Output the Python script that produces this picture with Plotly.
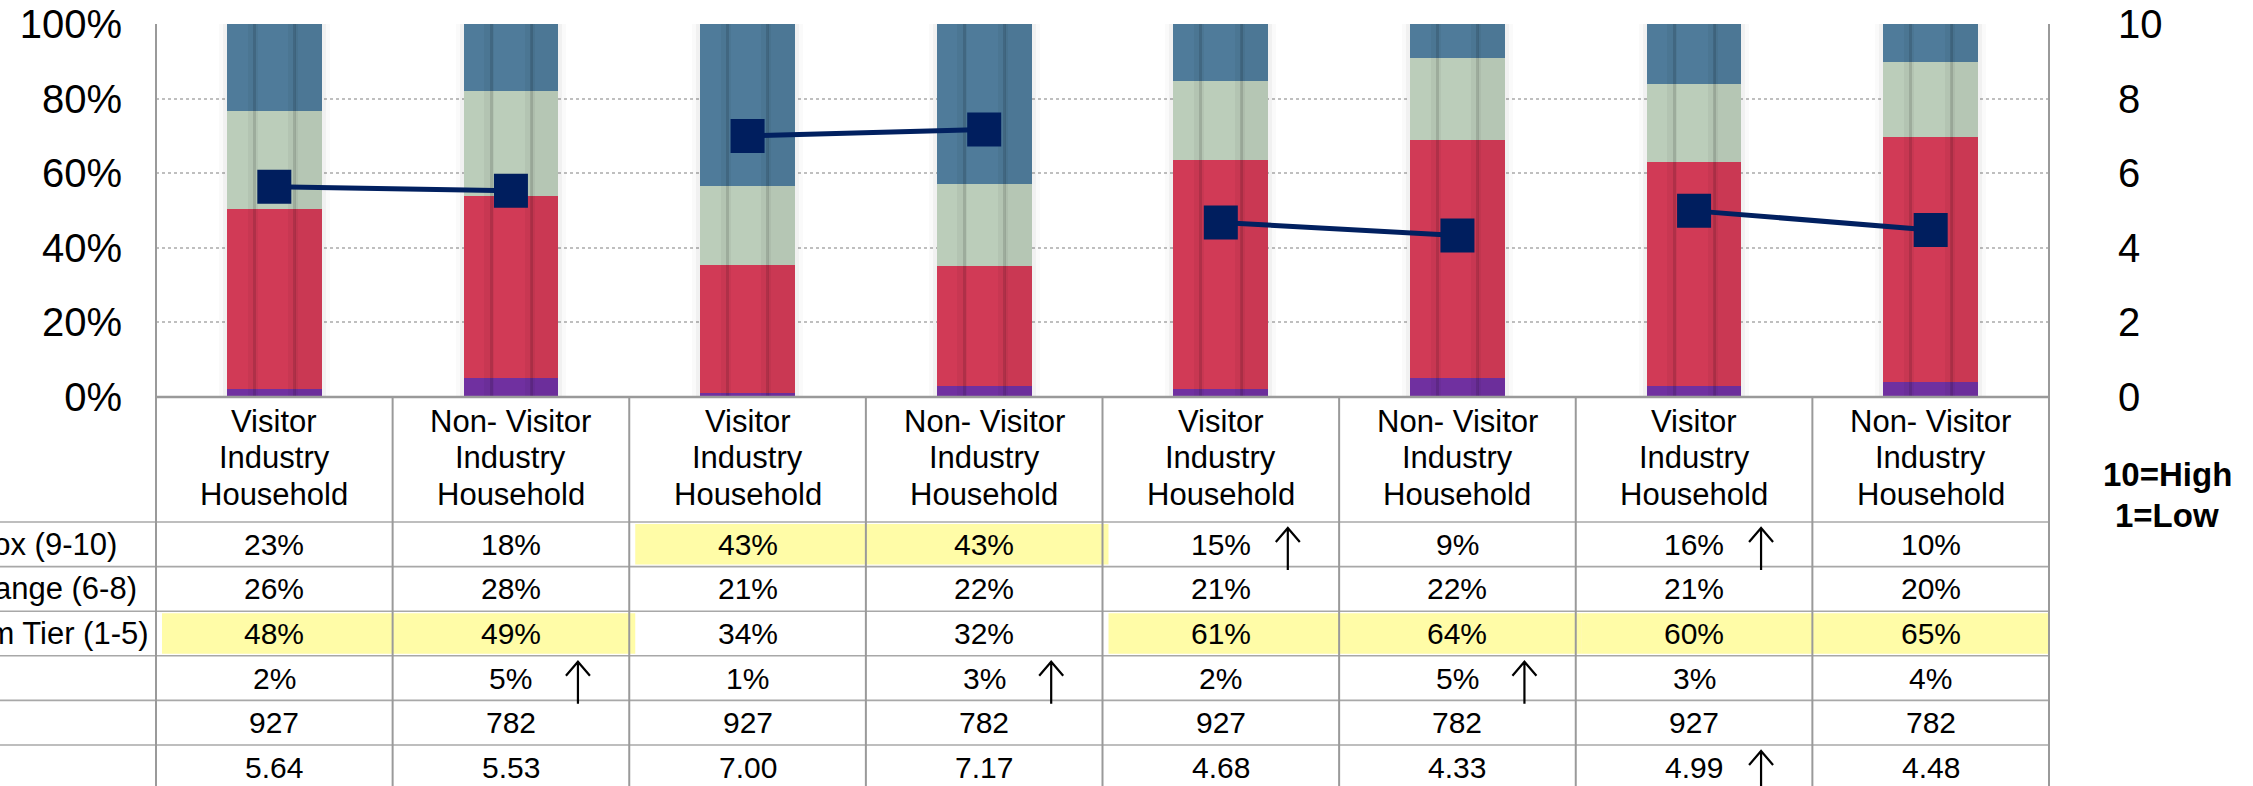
import plotly.graph_objects as go

# ---------------- data ----------------
categories = ["Visitor<br>Industry<br>Household", "Non- Visitor<br>Industry<br>Household"] * 4
top_box = [23, 18, 43, 43, 15, 9, 16, 10]          # 9-10
mid_range = [26, 28, 21, 22, 21, 22, 21, 20]       # 6-8
bottom_tier = [48, 49, 34, 32, 61, 64, 60, 65]     # 1-5
dont_know = [2, 5, 1, 3, 2, 5, 3, 4]
sample_n = [927, 782, 927, 782, 927, 782, 927, 782]
mean_score = [5.64, 5.53, 7.00, 7.17, 4.68, 4.33, 4.99, 4.48]
row_labels = ["Top Box (9-10)", "Mid Range (6-8)", "Bottom Tier (1-5)", "", "", ""]
pct_ticks = [0, 20, 40, 60, 80, 100]
score_ticks = [0, 2, 4, 6, 8, 10]
highlight_cells = [(2, 0, 1), (0, 2, 3), (2, 4, 5), (2, 6, 7)]   # (row, first col, last col)
up_arrows = [(0, 4), (0, 6), (3, 1), (3, 3), (3, 5), (5, 6)]     # (row, col)
scale_note = ["10=High", "1=Low"]

# ---------------- styles / layout geometry ----------------
W, H = 2253, 786
PL, PR, PT, PB = 156, 2049, 24, 397
PW, PH = PR - PL, PB - PT
FONT = "Liberation Sans, Arial, sans-serif"
C_DK, C_BOT, C_MID, C_TOP = "#7030A0", "#D13A56", "#BBCDBA", "#4F7B9A"
C_LINE = "#012060"
GRID = "#BFBFBF"
TBL = "#9A9A9A"
BAR_W = 0.40
HEAD_Y = [421, 458, 494]
ROW_TOP0, ROW_H = 522, 44.6
LABEL_RIGHT_PX = [119, 139, 151, 151, 151, 151]   # right edge of the (cropped) row labels


def px(x):
    return (x - PL) / PW


def py(y):
    return (PB - y) / PH


n = len(categories)
idx = list(range(n))
col_w = PW / n

# stack normalised to 100 %
segs = [dont_know, bottom_tier, mid_range, top_box]
seg_colors = [C_DK, C_BOT, C_MID, C_TOP]
totals = [sum(s[i] for s in segs) for i in idx]
norm = [[s[i] / totals[i] * 100 for i in idx] for s in segs]
full = [sum(norm[k][i] for k in range(4)) for i in idx]

fig = go.Figure()

# soft glow behind bars
for extra, alpha in [(8, 0.02), (4, 0.035)]:
    fig.add_trace(go.Bar(x=idx, y=full, base=0, width=BAR_W + 2 * extra / col_w,
                         marker=dict(color=f"rgba(0,0,0,{alpha})", line_width=0),
                         showlegend=False, hoverinfo="skip"))

base = [0] * n
for k in range(4):
    fig.add_trace(go.Bar(x=idx, y=norm[k], base=base[:], width=BAR_W,
                         marker=dict(color=seg_colors[k], line_width=0),
                         showlegend=False))
    base = [base[i] + norm[k][i] for i in idx]

# cylinder-like stripes
for rel, wpx, alpha in [(0.27, 10, 0.04), (0.29, 3, 0.12), (0.70, 10, 0.04), (0.715, 3, 0.12)]:
    w = wpx / col_w
    fig.add_trace(go.Bar(x=idx, y=full, base=0, width=w,
                         offset=-BAR_W / 2 + rel * BAR_W - w / 2,
                         marker=dict(color=f"rgba(0,0,0,{alpha})", line_width=0),
                         showlegend=False, hoverinfo="skip"))
fig.add_trace(go.Bar(x=idx, y=full, base=0, width=BAR_W * 0.285, offset=BAR_W * 0.215,
                     marker=dict(color="rgba(0,0,0,0.03)", line_width=0),
                     showlegend=False, hoverinfo="skip"))

# mean score lines (pairs)
for k in range(0, n, 2):
    fig.add_trace(go.Scatter(x=idx[k:k + 2], y=mean_score[k:k + 2], yaxis="y2",
                             mode="lines+markers",
                             line=dict(color=C_LINE, width=5),
                             marker=dict(symbol="square", size=34, color="#001E5E"),
                             showlegend=False))

shapes = []
annotations = []

# yellow highlights
for r, c0, c1 in highlight_cells:
    x0 = PL + c0 * col_w + 6
    x1 = min(PL + (c1 + 1) * col_w + 6, PR + 1)
    y0 = ROW_TOP0 + r * ROW_H + 2
    y1 = ROW_TOP0 + (r + 1) * ROW_H - 2
    shapes.append(dict(type="rect", xref="paper", yref="paper", x0=px(x0), x1=px(x1),
                       y0=py(y0), y1=py(y1), fillcolor="rgba(255,250,80,0.5)",
                       line_width=0, layer="above"))

# table lines
for k in range(len(row_labels)):
    yy = ROW_TOP0 + k * ROW_H
    shapes.append(dict(type="line", xref="paper", yref="paper", x0=px(-20), x1=px(PR),
                       y0=py(yy), y1=py(yy), line=dict(color="#A8A8A8", width=1.6), layer="above"))
for k in range(1, n):
    xx = PL + k * col_w
    shapes.append(dict(type="line", xref="paper", yref="paper", x0=px(xx), x1=px(xx),
                       y0=py(PB), y1=py(H + 20), line=dict(color=TBL, width=2), layer="above"))
for xx in (PL, PR):
    shapes.append(dict(type="line", xref="paper", yref="paper", x0=px(xx), x1=px(xx),
                       y0=py(PT), y1=py(H + 20), line=dict(color=TBL, width=2), layer="above"))
shapes.append(dict(type="line", xref="paper", yref="paper", x0=0, x1=1,
                   y0=0, y1=0, line=dict(color=TBL, width=2.5), layer="above"))

# header (category) text
for i, cat in enumerate(categories):
    for j, part in enumerate(cat.split("<br>")):
        annotations.append(dict(x=i, xref="x", y=py(HEAD_Y[j]), yref="paper", text=part,
                                showarrow=False, xanchor="center", yanchor="middle",
                                font=dict(family=FONT, size=31, color="black")))

# body cells
rows = [
    [f"{v}%" for v in top_box],
    [f"{v}%" for v in mid_range],
    [f"{v}%" for v in bottom_tier],
    [f"{v}%" for v in dont_know],
    [f"{v}" for v in sample_n],
    [f"{v:.2f}" for v in mean_score],
]
for r, vals in enumerate(rows):
    yc = ROW_TOP0 + (r + 0.5) * ROW_H
    for i, t in enumerate(vals):
        annotations.append(dict(x=i, xref="x", y=py(yc), yref="paper", text=t,
                                showarrow=False, xanchor="center", yanchor="middle",
                                font=dict(family=FONT, size=30, color="black")))
    if row_labels[r]:
        annotations.append(dict(x=px(LABEL_RIGHT_PX[r]), xref="paper", y=py(yc), yref="paper",
                                text=row_labels[r], showarrow=False, xanchor="right",
                                yanchor="middle", font=dict(family=FONT, size=31, color="black")))

# up arrows
for r, c in up_arrows:
    xa = PL + (c + 0.5) * col_w + 67
    ytip = ROW_TOP0 + r * ROW_H + 6
    ytail = ytip + 42
    path = (f"M{px(xa)},{py(ytail)} L{px(xa)},{py(ytip)} "
            f"M{px(xa - 12)},{py(ytip + 14)} L{px(xa)},{py(ytip)} L{px(xa + 12)},{py(ytip + 14)}")
    shapes.append(dict(type="path", xref="paper", yref="paper", path=path,
                       line=dict(color="black", width=2.2), layer="above"))

# scale note
for j, t in enumerate(scale_note):
    annotations.append(dict(x=px(2167), xref="paper", y=py(475 + 40 * j), yref="paper",
                            text=f"<b>{t}</b>", showarrow=False, xanchor="center",
                            yanchor="middle", font=dict(family=FONT, size=33, color="black")))

fig.update_layout(
    width=W, height=H,
    margin=dict(l=PL, r=W - PR, t=PT, b=H - PB, pad=0, autoexpand=False),
    paper_bgcolor="white", plot_bgcolor="white",
    barmode="overlay", bargap=0,
    showlegend=False,
    xaxis=dict(range=[-0.5, n - 0.5], showticklabels=False, showgrid=False,
               zeroline=False, showline=False, ticks="", automargin=False),
    yaxis=dict(range=[0, 100], tickmode="array", tickvals=pct_ticks,
               ticktext=[f"{v}%" for v in pct_ticks],
               showgrid=True, gridcolor=GRID, gridwidth=1.5, griddash="dot",
               zeroline=False, showline=False, ticks="", ticklabelstandoff=33,
               automargin=False,
               tickfont=dict(family=FONT, size=40, color="black")),
    yaxis2=dict(range=[0, 10], tickmode="array", tickvals=score_ticks,
                ticktext=[str(v) for v in score_ticks],
                overlaying="y", side="right",
                showgrid=False, zeroline=False, showline=False, ticks="",
                ticklabelstandoff=68, automargin=False,
                tickfont=dict(family=FONT, size=40, color="black")),
    shapes=shapes,
    annotations=annotations,
)

fig.write_html("out.html", config={"displayModeBar": False},
               post_script="document.body.style.margin='0px';")
